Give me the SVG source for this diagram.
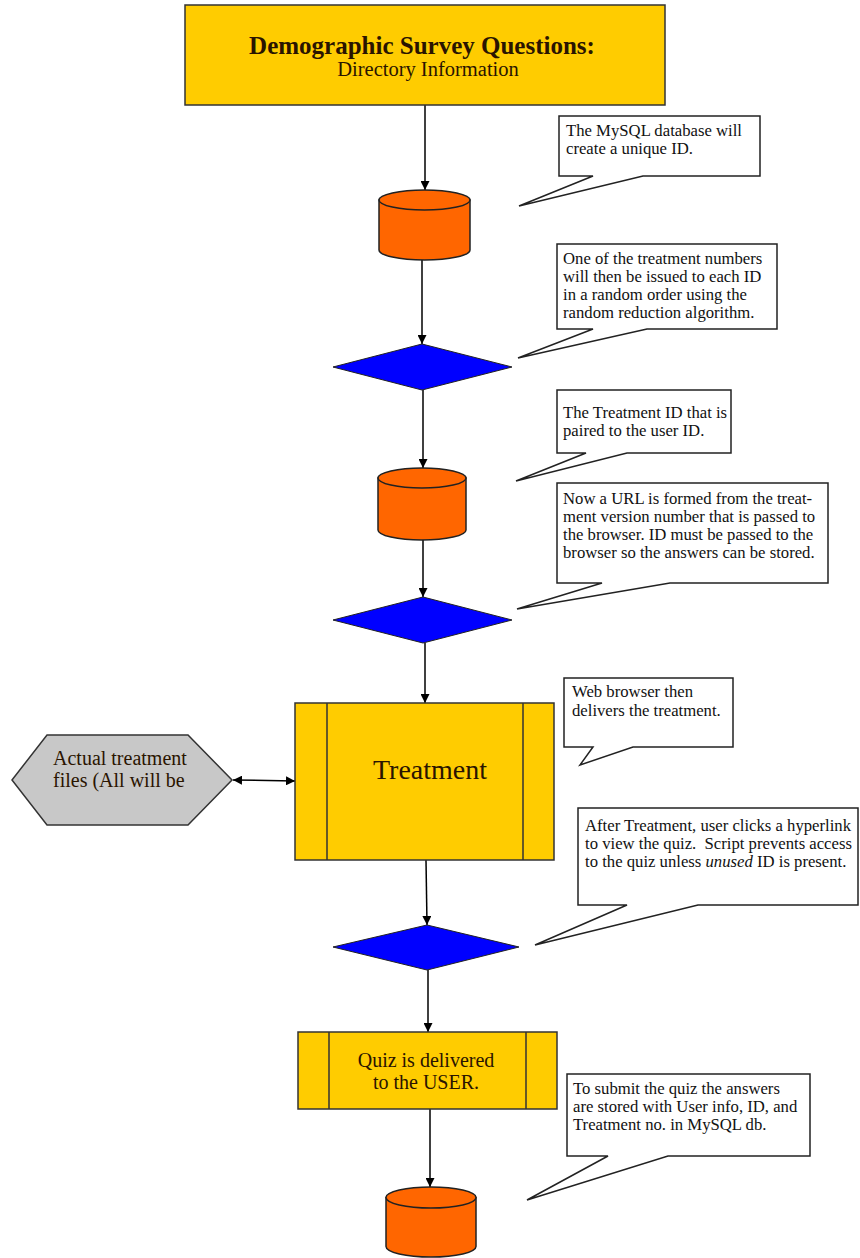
<svg xmlns="http://www.w3.org/2000/svg" width="860" height="1258" viewBox="0 0 860 1258">
<style>
.proc{fill:#FFCC00;stroke:#333;stroke-width:1.5}
.inner{stroke:#333;stroke-width:1.5;fill:none}
.db{fill:#FF6600;stroke:#222;stroke-width:1.5}
.dec{fill:#0000FF;stroke:#222;stroke-width:1}
.hex{fill:#C8C8C8;stroke:#333;stroke-width:1.5}
.call{fill:#fff;stroke:#222;stroke-width:1.5;stroke-linejoin:miter}
.conn{stroke:#000;stroke-width:1.5;fill:none}
.ct{font-family:"Liberation Serif","Times New Roman","DejaVu Serif",serif;font-size:16.7px;fill:#111}
.big{font-family:"Liberation Serif","Times New Roman","DejaVu Serif",serif;fill:#2a1400}
</style>
<defs>
<marker id="arr" viewBox="0 0 10 10" refX="10" refY="5" markerWidth="9" markerHeight="9" markerUnits="userSpaceOnUse" orient="auto">
<path d="M0,0 L10,5 L0,10 Z" fill="#000"/>
</marker>
<marker id="arr2" viewBox="0 0 10 10" refX="10" refY="5" markerWidth="9" markerHeight="9" markerUnits="userSpaceOnUse" orient="auto-start-reverse">
<path d="M0,0 L10,5 L0,10 Z" fill="#000"/>
</marker>
</defs>
<rect width="860" height="1258" fill="#fff"/>

<g id="connectors">
<line class="conn" x1="425" y1="105" x2="425" y2="190" marker-end="url(#arr)"/>
<line class="conn" x1="422" y1="260" x2="422" y2="344" marker-end="url(#arr)"/>
<line class="conn" x1="423" y1="390" x2="423" y2="468" marker-end="url(#arr)"/>
<line class="conn" x1="423" y1="540" x2="423" y2="597" marker-end="url(#arr)"/>
<line class="conn" x1="425" y1="643" x2="425" y2="703" marker-end="url(#arr)"/>
<line class="conn" x1="426" y1="860" x2="427" y2="925" marker-end="url(#arr)"/>
<line class="conn" x1="428" y1="970" x2="428" y2="1032" marker-end="url(#arr)"/>
<line class="conn" x1="430" y1="1109" x2="430" y2="1187" marker-end="url(#arr)"/>
<line class="conn" x1="233" y1="780" x2="295" y2="781" marker-start="url(#arr2)" marker-end="url(#arr2)"/>
</g>

<g id="title">
<rect class="proc" x="185" y="5" width="480" height="100"/>
<text class="big" x="422" y="54" text-anchor="middle" font-weight="bold" font-size="25" fill="#111">Demographic Survey Questions:</text>
<text class="big" x="428" y="76" text-anchor="middle" font-size="20.5" fill="#111">Directory Information</text>
</g>

<g id="db1">
<path class="db" d="M379,200 V250 A45.5,10 0 0 0 470,250 V200 Z"/>
<ellipse class="db" cx="424.5" cy="200" rx="45.5" ry="10"/>
</g>

<g id="decision1">
<polygon class="dec" points="333,367 422,344 512,367 422,390"/>
</g>

<g id="db2">
<path class="db" d="M378,478 V530 A44,10 0 0 0 466,530 V478 Z"/>
<ellipse class="db" cx="422" cy="478" rx="44" ry="10"/>
</g>

<g id="decision2">
<polygon class="dec" points="333,620 423,597 512,620 423,643"/>
</g>

<g id="treatment">
<rect class="proc" x="295" y="703" width="259" height="157"/>
<line class="inner" x1="327" y1="703" x2="327" y2="860"/>
<line class="inner" x1="523" y1="703" x2="523" y2="860"/>
<text class="big" x="430" y="779" text-anchor="middle" font-size="28">Treatment</text>
</g>

<g id="files">
<polygon class="hex" points="12,780 47,735 188,735 232,780 188,825 47,825"/>
<text class="big" x="53" y="765" font-size="20" fill="#111">Actual treatment</text>
<text class="big" x="53" y="787" font-size="20" fill="#111">files (All will be</text>
</g>

<g id="decision3">
<polygon class="dec" points="333,947 427,925 519,947 427,970"/>
</g>

<g id="quiz">
<rect class="proc" x="298" y="1032" width="259" height="77"/>
<line class="inner" x1="329" y1="1032" x2="329" y2="1109"/>
<line class="inner" x1="526" y1="1032" x2="526" y2="1109"/>
<text class="big" x="426" y="1067" text-anchor="middle" font-size="20">Quiz is delivered</text>
<text class="big" x="426" y="1089" text-anchor="middle" font-size="20">to the USER.</text>
</g>

<g id="db3">
<path class="db" d="M386,1197.5 V1246.5 A45,10.5 0 0 0 476,1246.5 V1197.5 Z"/>
<ellipse class="db" cx="431" cy="1197.5" rx="45" ry="10.5"/>
</g>

<g id="note1">
<path class="call" d="M559,116 H760 V176 H643 L519,206 L593,176 H559 Z"/>
<text class="ct" x="566" y="136">The MySQL database will</text>
<text class="ct" x="566" y="154">create a unique ID.</text>
</g>

<g id="note2">
<path class="call" d="M557,244 H777 V329 H647 L518,358 L593,329 H557 Z"/>
<text class="ct" x="563" y="264">One of the treatment numbers</text>
<text class="ct" x="563" y="282">will then be issued to each ID</text>
<text class="ct" x="563" y="300">in a random order using the</text>
<text class="ct" x="563" y="318">random reduction algorithm.</text>
</g>

<g id="note3">
<path class="call" d="M557,390 H731 V453 H627 L516,481 L586,453 H557 Z"/>
<text class="ct" x="563" y="418">The Treatment ID that is</text>
<text class="ct" x="563" y="436">paired to the user ID.</text>
</g>

<g id="note4">
<path class="call" d="M557,483 H828 V583 H670 L517,609 L602,583 H557 Z"/>
<text class="ct" x="563" y="504">Now a URL is formed from the treat-</text>
<text class="ct" x="563" y="522">ment version number that is passed to</text>
<text class="ct" x="563" y="540">the browser. ID must be passed to the</text>
<text class="ct" x="563" y="558">browser so the answers can be stored.</text>
</g>

<g id="note5">
<path class="call" d="M564,678 H733 V747 H633 L580,765 L593,747 H564 Z"/>
<text class="ct" x="572" y="697">Web browser then</text>
<text class="ct" x="572" y="716">delivers the treatment.</text>
</g>

<g id="note6">
<path class="call" d="M578,808 H858 V905 H698 L535,945 L627,905 H578 Z"/>
<text class="ct" x="585" y="831">After Treatment, user clicks a hyperlink</text>
<text class="ct" x="585" y="849" xml:space="preserve">to view the quiz.  Script prevents access</text>
<text class="ct" x="585" y="867">to the quiz unless <tspan font-style="italic">unused</tspan> ID is present.</text>
</g>

<g id="note7">
<path class="call" d="M567,1074 H810 V1156 H668 L527,1200 L608,1156 H567 Z"/>
<text class="ct" x="573" y="1094">To submit the quiz the answers</text>
<text class="ct" x="573" y="1112">are stored with User info, ID, and</text>
<text class="ct" x="573" y="1130">Treatment no. in MySQL db.</text>
</g>
</svg>
